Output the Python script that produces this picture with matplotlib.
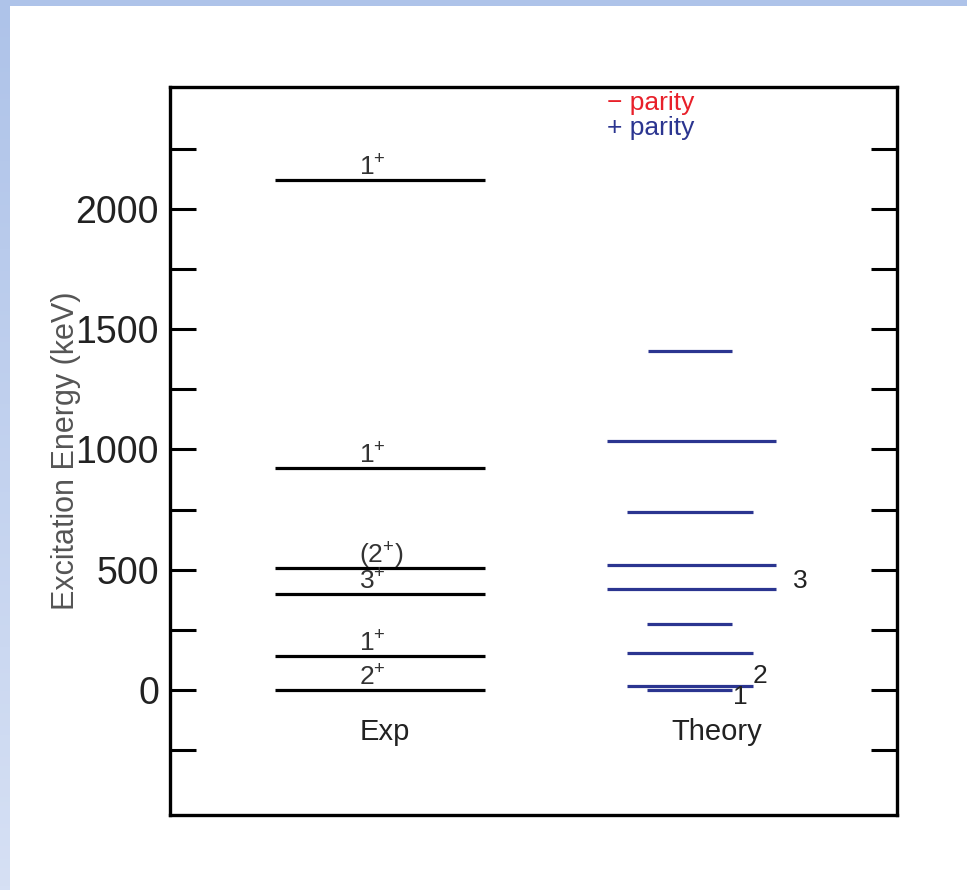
import numpy as np
import matplotlib
matplotlib.use("Agg")
import matplotlib.pyplot as plt
from matplotlib.patches import Rectangle

plt.rcParams['font.family'] = ['Liberation Sans', 'DejaVu Sans']
plt.rcParams['mathtext.fontset'] = 'custom'
plt.rcParams['mathtext.rm'] = 'Liberation Sans'
plt.rcParams['mathtext.it'] = 'Liberation Sans:italic'
plt.rcParams['mathtext.bf'] = 'Liberation Sans:bold'

# ---------------- data ----------------
exp_energies = [0, 141, 399, 507, 923, 2121]
exp_labels = [r'$\mathregular{2^{+}}$', r'$\mathregular{1^{+}}$', r'$\mathregular{3^{+}}$',
              r'$\mathregular{(2^{+})}$', r'$\mathregular{1^{+}}$', r'$\mathregular{1^{+}}$']
exp_xmin = 1.45
exp_xmax = 4.33

theory_energies = [0, 17, 154, 274, 420, 520, 740, 1035, 1410]
theory_xmin = [6.56, 6.29, 6.29, 6.56, 6.01, 6.01, 6.29, 6.01, 6.57]
theory_xmax = [7.73, 8.02, 8.02, 7.73, 8.34, 8.34, 8.02, 8.34, 7.73]

theory_marks = ['1', '2', '3']
theory_mark_energies = [0, 17, 420]

yticks_major = [0, 500, 1000, 1500, 2000]
yticks_minor = [-250, 250, 750, 1250, 1750, 2250]

BLUE = '#2b3590'
RED = '#e8202a'

# ---------------- figure ----------------
W, H = 967, 890
fig = plt.figure(figsize=(W / 100, H / 100), dpi=100)
fig.patch.set_facecolor('white')

# slide decoration: top band and left gradient band
fig.patches.append(Rectangle((0, 1 - 6 / H), 1, 6 / H, transform=fig.transFigure,
                             facecolor='#aec3e9', edgecolor='none', zorder=0))
axbg = fig.add_axes([0, 0, 10 / W, 1 - 6 / H])
axbg.axis('off')
top_c = np.array([0xae, 0xc3, 0xe9]) / 255
bot_c = np.array([0xd6, 0xe0, 0xf4]) / 255
t = np.linspace(0, 1, 200)[:, None]
grad = top_c[None, :] * (1 - t) + bot_c[None, :] * t
axbg.imshow(grad[:, None, :], aspect='auto', extent=[0, 1, 0, 1])

ax = fig.add_axes([170 / W, 1 - 815 / H, 727 / W, 728 / H])
ax.set_xlim(0, 10)
ax.set_ylim(-520, 2507)

# experimental levels
ax.hlines(exp_energies, exp_xmin, exp_xmax, colors='black', linewidth=2.3)
for e, lab in zip(exp_energies, exp_labels):
    ax.annotate(lab, (2.60, e), xytext=(0, 3), textcoords='offset points',
                ha='left', va='baseline', fontsize=19, color='#333333')

# theory levels
ax.hlines(theory_energies, theory_xmin, theory_xmax, colors=BLUE, linewidth=2.3)
mark_offsets = [(1, -10), (0, 2), (12, 1)]
mark_x = [7.73, 8.02, 8.34]
for lab, e, x, off in zip(theory_marks, theory_mark_energies, mark_x, mark_offsets):
    ax.annotate(lab, (x, e), xytext=off, textcoords='offset points',
                ha='left', va='baseline', fontsize=19, color='#222222')

ax.text(2.96, -208, 'Exp', ha='center', va='baseline', fontsize=21, color='#222222')
ax.text(7.52, -208, 'Theory', ha='center', va='baseline', fontsize=21, color='#222222')

# parity legend
ax.text(0.6015, 0.978, '\u2212 parity', transform=ax.transAxes, ha='left', va='center',
        fontsize=19, color=RED)
ax.text(0.6015, 0.944, '+ parity', transform=ax.transAxes, ha='left', va='center',
        fontsize=19, color=BLUE)

# axes styling
ax.set_xticks([])
ax.set_yticks(yticks_major)
ax.set_yticks(yticks_minor, minor=True)
ax.set_yticklabels([str(v) for v in yticks_major])
ax.tick_params(axis='y', which='both', direction='in', length=19, width=2.2,
               left=True, right=True, labelsize=27, pad=8, labelcolor='#222222')
for s in ax.spines.values():
    s.set_linewidth(2.4)

ax.set_ylabel('Excitation Energy (keV)', fontsize=22, color='#555555')
ax.yaxis.set_label_coords(-0.122, 0.5)

fig.savefig('out.png', dpi=100, facecolor='white')
